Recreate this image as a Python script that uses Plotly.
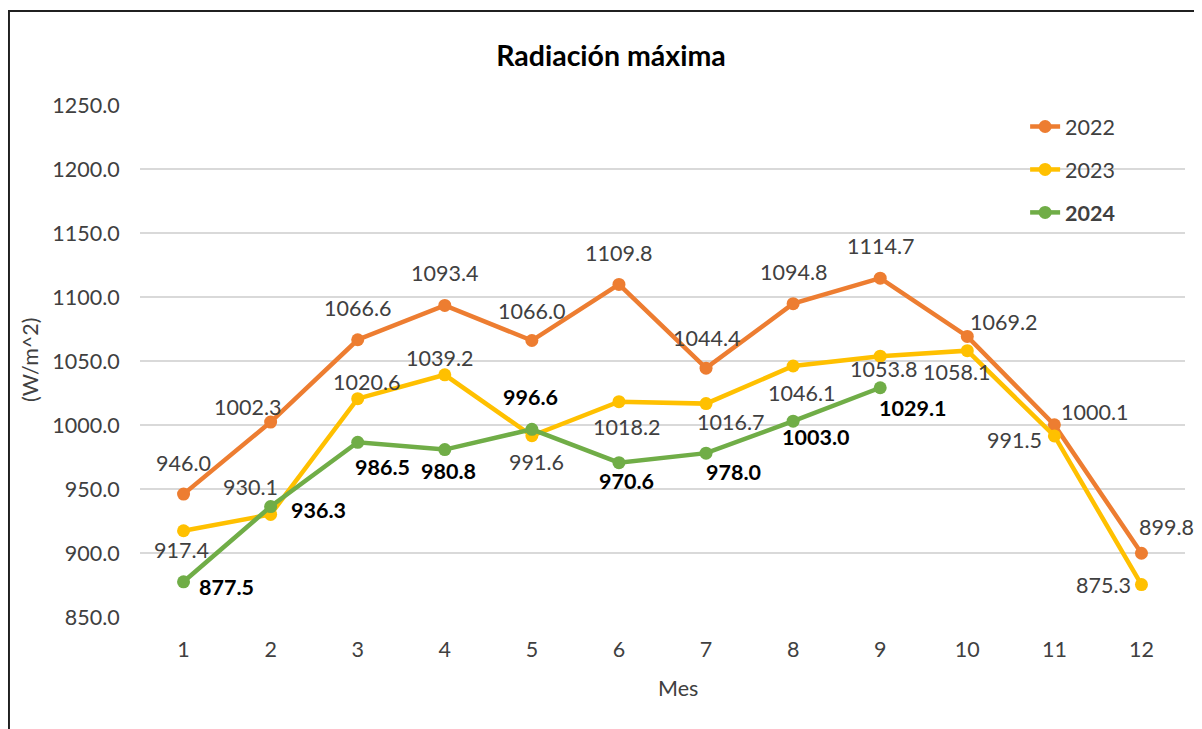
import plotly.graph_objects as go

months = [1, 2, 3, 4, 5, 6, 7, 8, 9, 10, 11, 12]
series_names = ["2022", "2023", "2024"]
vals_2022 = [946.0, 1002.3, 1066.6, 1093.4, 1066.0, 1109.8, 1044.4, 1094.8, 1114.7, 1069.2, 1000.1, 899.8]
vals_2023 = [917.4, 930.1, 1020.6, 1039.2, 991.6, 1018.2, 1016.7, 1046.1, 1053.8, 1058.1, 991.5, 875.3]
vals_2024 = [877.5, 936.3, 986.5, 980.8, 996.6, 970.6, 978.0, 1003.0, 1029.1]
y_ticks = [850, 900, 950, 1000, 1050, 1100, 1150, 1200, 1250]

# label pixel offsets (dx right, dy down) – styling only
off_2022 = [(0, -31), (-23, -15), (0, -32), (0, -32), (0, -30), (0, -31), (0, -30), (0, -32), (0, -32), (36, -14), (40, -13), (25, -26)]
off_2023 = [(-2, 19), (-20, -27), (9, -17), (-5, -17), (5, 26), (8, 25), (24, 18), (8, 27), (3, 13), (-11, 21), (-40, 4), (-38, 0)]
off_2024 = [(43, 5), (48, 3), (25, 25), (4, 21), (-1, -32), (8, 18), (27, 19), (22, 16), (32, 20)]

colors = {"2022": "#ED7D31", "2023": "#FFC000", "2024": "#70AD47"}
FONT = "Lato"
FS = 21.5

# page has an 8px body margin; compensate so the plot lands at the reference pixels
W, H = 1194, 721

fig = go.Figure()
all_vals = [vals_2022, vals_2023, vals_2024]
all_offs = [off_2022, off_2023, off_2024]
for name, vals in zip(series_names, all_vals):
    disp = "<b>%s</b>" % name if name == "2024" else name
    fig.add_trace(go.Scatter(
        x=months[:len(vals)], y=vals, mode="lines+markers", name=disp,
        legendgroup=name,
        line=dict(color=colors[name], width=4.5),
        marker=dict(color=colors[name], size=13),
    ))

annotations = []
for name, vals, offs in zip(series_names, all_vals, all_offs):
    bold = name == "2024"
    for m, v, (dx, dy) in zip(months, vals, offs):
        txt = "%.1f" % v
        annotations.append(dict(
            x=m, y=v, xref="x", yref="y", showarrow=False,
            xanchor="center", yanchor="middle",
            text="<b>%s</b>" % txt if bold else txt,
            xshift=dx, yshift=-dy,
            font=dict(family=FONT, size=FS, color="#000000" if bold else "#404040"),
        ))

# axis titles
annotations.append(dict(x=-0.1053, y=0.502, xref="paper", yref="paper", text="(W/m^2)",
                        textangle=-90, showarrow=False, xanchor="center", yanchor="middle",
                        font=dict(family=FONT, size=FS, color="#404040")))
annotations.append(dict(x=0.515, y=-0.1387, xref="paper", yref="paper", text="Mes",
                        showarrow=False, xanchor="center", yanchor="middle",
                        font=dict(family=FONT, size=FS, color="#404040")))

fig.update_layout(
    width=W, height=H,
    margin=dict(l=132, r=17, t=97, b=112),
    paper_bgcolor="white", plot_bgcolor="white",
    title=dict(text="<b>Radiación máxima</b>", x=0.4507, xref="paper", y=1 - 48 / H,
               yref="container", xanchor="center", yanchor="middle",
               font=dict(family=FONT, size=28.5, color="#000000")),
    annotations=annotations,
    showlegend=True,
    legend=dict(x=0.847, y=0.998, xanchor="left", yanchor="top",
                bgcolor="rgba(0,0,0,0)", traceorder="grouped", tracegroupgap=12,
                font=dict(family=FONT, size=FS, color="#404040")),
    shapes=[dict(type="rect", xref="paper", yref="paper",
                 x0=-0.1254, x1=1.03, y0=-0.25, y1=1.1836,
                 line=dict(color="#202020", width=2), layer="below")],
)
fig.update_xaxes(range=[0.5, 12.5], tickmode="array", tickvals=months,
                 ticktext=[str(m) for m in months], showgrid=False, zeroline=False,
                 showline=False, ticks="outside", ticklen=13, tickcolor="rgba(0,0,0,0)",
                 tickfont=dict(family=FONT, size=FS, color="#404040"))
fig.update_yaxes(range=[850, 1250], tickmode="array", tickvals=y_ticks,
                 ticktext=["%.1f" % t for t in y_ticks], showgrid=True,
                 gridcolor="#D9D9D9", gridwidth=1.5, zeroline=False, showline=False,
                 ticks="outside", ticklen=15, tickcolor="rgba(0,0,0,0)",
                 tickfont=dict(family=FONT, size=FS, color="#404040"))

fig.write_html("out.html")
